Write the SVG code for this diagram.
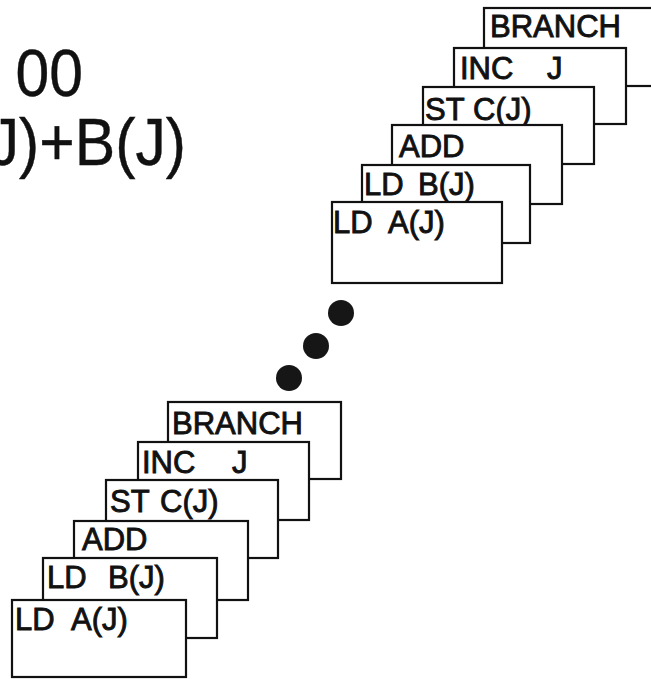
<svg xmlns="http://www.w3.org/2000/svg" width="651" height="679" viewBox="0 0 651 679">
<style>
.box{fill:#fff;stroke:#111;stroke-width:2.2}
.lbl{font-family:"Liberation Sans",Arial,sans-serif;font-size:31px;fill:#111;stroke:#111;stroke-width:0.9;white-space:pre}
.title{font-family:"Liberation Sans",Arial,sans-serif;font-size:66px;fill:#111;stroke:#111;stroke-width:0.4}
.dot{fill:#161616}
</style>
<rect width="651" height="679" fill="#fff"/>
<g id="title">
<text class="title" transform="translate(83,96) scale(0.92,1)" text-anchor="end">00</text>
<text class="title" transform="translate(186,165) scale(0.92,1)" text-anchor="end">J)+B(J)</text>
</g>
<g id="top-stack">
<g id="top-branch"><rect class="box" x="484" y="8" width="185" height="78"/><text class="lbl" x="490" y="37">BRANCH</text></g>
<g id="top-inc"><rect class="box" x="454" y="48" width="172" height="76"/><text class="lbl" x="460" y="79">INC <tspan x="547">J</tspan></text></g>
<g id="top-st"><rect class="box" x="423" y="87" width="171" height="77"/><text class="lbl" x="425" y="120">ST <tspan x="473">C(J)</tspan></text></g>
<g id="top-add"><rect class="box" x="392" y="125" width="170" height="79"/><text class="lbl" x="399" y="157">ADD</text></g>
<g id="top-ldb"><rect class="box" x="362" y="165" width="168" height="78"/><text class="lbl" x="364" y="195">LD <tspan x="418">B(J)</tspan></text></g>
<g id="top-lda"><rect class="box" x="332" y="202" width="170" height="81"/><text class="lbl" x="333" y="233">LD <tspan x="388">A(J)</tspan></text></g>
</g>
<g id="ellipsis">
<circle class="dot" cx="341" cy="313" r="13"/>
<circle class="dot" cx="316" cy="346" r="13"/>
<circle class="dot" cx="289" cy="378" r="13"/>
</g>
<g id="bottom-stack">
<g id="bot-branch"><rect class="box" x="168" y="402" width="173" height="77"/><text class="lbl" x="172" y="434">BRANCH</text></g>
<g id="bot-inc"><rect class="box" x="138" y="442" width="171" height="78"/><text class="lbl" x="142" y="473">INC <tspan x="232">J</tspan></text></g>
<g id="bot-st"><rect class="box" x="106" y="480" width="172" height="78"/><text class="lbl" x="110" y="512">ST <tspan x="160">C(J)</tspan></text></g>
<g id="bot-add"><rect class="box" x="74" y="521" width="174" height="79"/><text class="lbl" x="82" y="550">ADD</text></g>
<g id="bot-ldb"><rect class="box" x="43" y="558" width="174" height="80"/><text class="lbl" x="47" y="588">LD <tspan x="108">B(J)</tspan></text></g>
<g id="bot-lda"><rect class="box" x="12" y="600" width="174" height="77"/><text class="lbl" x="15" y="630">LD <tspan x="71">A(J)</tspan></text></g>
</g>
</svg>
